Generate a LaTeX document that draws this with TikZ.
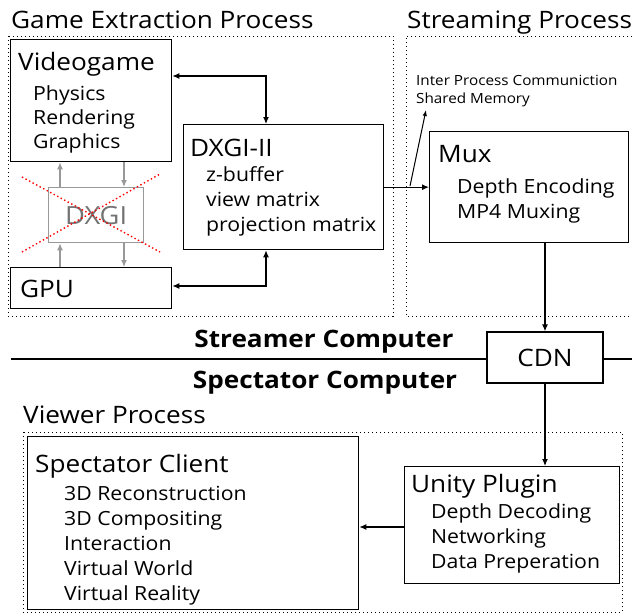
\documentclass[tikz,border=0pt]{standalone}
\usepackage{fontspec}
\setmainfont{Open Sans}[FakeStretch=1.09]
\usetikzlibrary{arrows.meta}

\tikzset{
  box/.style={draw, line width=1.3pt, anchor=north west, inner sep=0pt},
  zone/.style={draw, line width=1pt, dash pattern=on 1pt off 3pt},
  title/.style={anchor=base west, inner sep=0pt, font=\fontsize{24}{28}\selectfont},
  head/.style={anchor=base west, inner sep=0pt, font=\fontsize{24}{28}\selectfont},
  item/.style={anchor=base west, inner sep=0pt, font=\fontsize{19.5}{24}\selectfont},
  arr/.style={line width=1.2pt, -{Latex[length=7pt,width=6pt]}},
  darr/.style={line width=1.2pt, {Latex[length=7pt,width=6pt]}-{Latex[length=7pt,width=6pt]}},
  garr/.style={line width=1.2pt, draw=black!40, -{Latex[length=7pt,width=6pt]}},
}

\begin{document}
\begin{tikzpicture}[x=1pt,y=-1pt]
\useasboundingbox (0,0) rectangle (632,613);

% process regions
\draw[zone] (8,36) rectangle (393,316);
\draw[zone] (632,36) -- (406,36) -- (406,316) -- (632,316);
\draw[zone] (23,432) rectangle (622,612);
\node[title] (ttgame) at (11,28) {Game Extraction Process};
\node[title] (ttstream) at (407,28) {Streaming Process};
\node[title] (ttview) at (23,423) {Viewer Process};

% game side
\node[box, minimum width=161, minimum height=122] (game) at (10,39) {};
\node[head] (gamehd) at (18,70) {Videogame};
\foreach \y/\t in {100/Physics,124/Rendering,148/Graphics} {
    \node[item] at (33,\y) {\t};
}
\node[box, draw=black!40, minimum width=95, minimum height=55] (dxgi) at (48,187) {};
\node[text=black!55, font=\fontsize{25}{28}\selectfont] (dxgihd) at (dxgi.center) {DXGI};
\node[box, minimum width=161, minimum height=41] (gpu) at (10,267) {};
\node[head] (gpuhd) at (20,297) {GPU};

\draw[garr] (dxgi.north -| 60,0) -- (game.south -| 60,0);
\draw[garr] (game.south -| 124,0) -- (dxgi.north -| 124,0);
\draw[garr] (gpu.north -| 60,0) -- (dxgi.south -| 60,0);
\draw[garr] (dxgi.south -| 124,0) -- (gpu.north -| 124,0);
% removed layer
\draw[red, line width=1.4pt, dash pattern=on 1.4pt off 2.6pt] (22,177) -- (160,252);
\draw[red, line width=1.4pt, dash pattern=on 1.4pt off 2.6pt] (22,252) -- (160,174);

\node[box, minimum width=200, minimum height=125] (dx2) at (183,124) {};
\node[head] (dx2hd) at (190,156) {DXGI-II};
\foreach \y/\t in {181/z-buffer,206/view matrix,231/projection matrix} {
    \node[item] at (206,\y) {\t};
}
\draw[darr] (game.east |- 0,76) -| (dx2.north -| 266,0);
\draw[darr] (gpu.east |- 0,286) -| (dx2.south -| 266,0);

% streaming side
\node[box, minimum width=199, minimum height=111] (mux) at (429,131) {};
\node[head] (muxhd) at (438,162) {Mux};
\foreach \y/\t in {193/Depth Encoding,218/MP4 Muxing} {
    \node[item] at (457,\y) {\t};
}
\draw[arr] (dx2.east) -- (mux.west |- dx2.east);
\coordinate (ipc) at (410,186);
\node[anchor=north west, inner sep=0pt, align=left, font=\fontsize{14}{18}\selectfont] (ipclbl) at (416,75) {Inter Process Communiction\\Shared Memory};
\coordinate (ipctip) at (426,110);
\draw[line width=1pt, -{Latex[length=6pt,width=4.5pt]}] (ipc) -- (ipctip);

% computers
\node[box, anchor=center, minimum width=116, minimum height=51, font=\fontsize{24}{28}\selectfont] (cdn) at (545,357.5) {CDN};
\coordinate (lnl) at (11,359);
\coordinate (lnr) at (632,359);
\draw[line width=1.3pt] (lnl) -- (cdn.west |- lnl);
\draw[line width=1.3pt] (cdn.east |- lnr) -- (lnr);
\node[anchor=base, inner sep=0pt, font=\bfseries\fontsize{24}{28}\selectfont] (strm) at (324,347) {Streamer Computer};
\node[anchor=base, inner sep=0pt, font=\bfseries\fontsize{24}{28}\selectfont] (spec) at (325,388) {Spectator Computer};
\draw[arr] (mux.south -| cdn.north) -- (cdn.north);

% viewer side
\node[box, minimum width=215, minimum height=117] (unity) at (404,466) {};
\node[head] (unityhd) at (411,492) {Unity Plugin};
\foreach \y/\t in {518/Depth Decoding,543/Networking,568/Data Preperation} {
    \node[item] at (431,\y) {\t};
}
\node[box, minimum width=331, minimum height=173] (client) at (27,436) {};
\node[head] (clienthd) at (35,472) {Spectator Client};
\foreach \y/\t in {500/3D Reconstruction,525/3D Compositing,550/Interaction,575/Virtual World,600/Virtual Reality} {
    \node[item] at (64,\y) {\t};
}
\draw[arr] (cdn.south) -- (cdn.south |- unity.north);
\draw[arr] (unity.west |- 0,527) -- (client.east |- 0,527);
\end{tikzpicture}
\end{document}
